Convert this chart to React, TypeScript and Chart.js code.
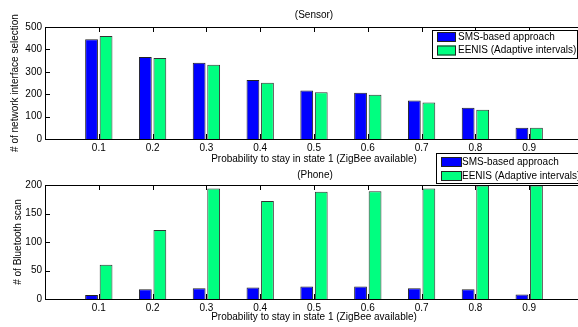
import React, { useEffect, useRef } from 'react';
import { Chart, registerables } from 'chart.js';

Chart.register(...registerables);

const categories = ['0.1', '0.2', '0.3', '0.4', '0.5', '0.6', '0.7', '0.8', '0.9'];
const axisLabels = ['', ...categories, ''];
const seriesNames = ['SMS-based approach', 'EENIS (Adaptive intervals)'];
const seriesColors = ['#0000FF', '#00FF80'];
const sensorSms = [445, 366, 340, 263, 216, 207, 172, 140, 50];
const sensorEenis = [460, 362, 332, 251, 209, 198, 163, 131, 50];
const phoneSms = [7, 17, 19, 20, 22, 22, 19, 17, 8];
const phoneEenis = [60, 121, 194, 172, 188, 189, 194, 199, 199];
const sensorYMax = 500;
const sensorYStep = 100;
const phoneYMax = 200;
const phoneYStep = 50;
const xTitle = 'Probability to stay in state 1 (ZigBee available)';

const FONT = '"Liberation Sans", Arial, Helvetica, sans-serif';
const FONT_SIZE = 10;
const CANVAS_W = 600;
const PLOT_RIGHT = 583;
const TICK_LEN = 5;

type Layout = {
  height: number;
  padTop: number;
  xAxisH: number;
  title: string;
  titleXY: [number, number];
  yTitle: string;
  yTitleXY: [number, number];
  xTitleXY: [number, number];
  legend: { x: number; y: number; w: number; h: number; sw: number; rows: [number, number]; sh: number; tx: number };
};

function pad(arr: number[]) {
  return [null, ...arr, null];
}

function makeConfig(sms: number[], eenis: number[], yMax: number, yStep: number, L: Layout): any {
  const decor = {
    id: 'decor',
    afterDatasetsDraw(chart: any) {
      const ctx = chart.ctx as CanvasRenderingContext2D;
      const a = chart.chartArea;
      const xs = chart.scales.x;
      const ys = chart.scales.y;
      ctx.save();
      ctx.strokeStyle = '#000';
      ctx.lineWidth = 1;
      ctx.beginPath();
      for (let i = 1; i <= categories.length; i++) {
        const px = Math.round(xs.getPixelForValue(i)) + 0.5;
        ctx.moveTo(px, a.top);
        ctx.lineTo(px, a.top + TICK_LEN);
        ctx.moveTo(px, a.bottom);
        ctx.lineTo(px, a.bottom - TICK_LEN);
      }
      for (let v = yStep; v < yMax; v += yStep) {
        const py = Math.round(ys.getPixelForValue(v)) + 0.5;
        ctx.moveTo(a.left, py);
        ctx.lineTo(a.left + TICK_LEN, py);
        ctx.moveTo(a.right, py);
        ctx.lineTo(a.right - TICK_LEN, py);
      }
      ctx.stroke();
      ctx.strokeRect(Math.round(a.left) + 0.5, Math.round(a.top) + 0.5, Math.round(a.right - a.left), Math.round(a.bottom - a.top));
      ctx.restore();
    },
    afterDraw(chart: any) {
      const ctx = chart.ctx as CanvasRenderingContext2D;
      ctx.save();
      ctx.fillStyle = '#000';
      ctx.font = `${FONT_SIZE}px ${FONT}`;
      ctx.textBaseline = 'middle';
      ctx.textAlign = 'center';
      ctx.fillText(L.title, L.titleXY[0], L.titleXY[1]);
      ctx.fillText(xTitle, L.xTitleXY[0], L.xTitleXY[1]);
      ctx.save();
      ctx.translate(L.yTitleXY[0], L.yTitleXY[1]);
      ctx.rotate(-Math.PI / 2);
      ctx.fillText(L.yTitle, 0, 0);
      ctx.restore();
      const lg = L.legend;
      ctx.fillStyle = '#fff';
      ctx.fillRect(lg.x, lg.y, lg.w, lg.h);
      ctx.strokeStyle = '#000';
      ctx.lineWidth = 1;
      ctx.strokeRect(lg.x + 0.5, lg.y + 0.5, lg.w, lg.h);
      ctx.textAlign = 'left';
      for (let i = 0; i < seriesNames.length; i++) {
        const ry = lg.rows[i];
        ctx.fillStyle = seriesColors[i];
        ctx.fillRect(lg.x + 5, ry - lg.sh / 2, lg.sw, lg.sh);
        ctx.strokeStyle = '#222';
        ctx.strokeRect(lg.x + 5.5, ry - lg.sh / 2 + 0.5, lg.sw - 1, lg.sh - 1);
        ctx.fillStyle = '#000';
        ctx.fillText(seriesNames[i], lg.tx, ry);
      }
      ctx.restore();
    },
  };

  return {
    type: 'bar',
    data: {
      labels: axisLabels,
      datasets: [
        { label: seriesNames[0], data: pad(sms), backgroundColor: seriesColors[0], borderColor: '#222', borderWidth: 1, categoryPercentage: 0.54, barPercentage: 0.88 },
        { label: seriesNames[1], data: pad(eenis), backgroundColor: seriesColors[1], borderColor: '#333', borderWidth: 1, categoryPercentage: 0.54, barPercentage: 0.88 },
      ],
    },
    options: {
      responsive: false,
      animation: false,
      devicePixelRatio: 1,
      layout: { padding: { top: L.padTop, right: CANVAS_W - PLOT_RIGHT, left: 0, bottom: 0 } },
      plugins: { legend: { display: false }, tooltip: { enabled: false }, title: { display: false } },
      scales: {
        x: {
          type: 'category',
          offset: false,
          grid: { display: false, drawTicks: false },
          border: { display: false },
          ticks: { color: '#000', font: { family: FONT, size: FONT_SIZE }, padding: 3, maxRotation: 0, autoSkip: false },
          afterFit: (s: any) => { s.height = L.xAxisH; },
        },
        y: {
          min: 0,
          max: yMax,
          grid: { display: false, drawTicks: false },
          border: { display: false },
          ticks: { stepSize: yStep, color: '#000', font: { family: FONT, size: FONT_SIZE }, padding: 3 },
          afterFit: (s: any) => { s.width = 45; },
        },
      },
    },
    plugins: [decor],
  };
}

function BarPanel(props: { top: number; sms: number[]; eenis: number[]; yMax: number; yStep: number; L: Layout }) {
  const ref = useRef<HTMLCanvasElement | null>(null);
  useEffect(() => {
    if (!ref.current) return;
    const chart = new Chart(ref.current, makeConfig(props.sms, props.eenis, props.yMax, props.yStep, props.L));
    return () => chart.destroy();
  }, []);
  return (
    <canvas
      ref={ref}
      width={CANVAS_W}
      height={props.L.height}
      style={{ position: 'absolute', left: 0, top: props.top, width: CANVAS_W, height: props.L.height, display: 'block' }}
    />
  );
}

const sensorLayout: Layout = {
  height: 170,
  padTop: 27,
  xAxisH: 31,
  title: '(Sensor)',
  titleXY: [314, 15],
  yTitle: '# of network interface selection',
  yTitleXY: [15, 83],
  xTitleXY: [314, 159],
  legend: { x: 432, y: 30, w: 145, h: 28, sw: 19, sh: 10, rows: [37, 50.5], tx: 458 },
};

const phoneLayout: Layout = {
  height: 182,
  padTop: 40,
  xAxisH: 28,
  title: '(Phone)',
  titleXY: [315, 30],
  yTitle: '# of Bluetooth scan',
  yTitleXY: [18, 97],
  xTitleXY: [314, 172],
  legend: { x: 436, y: 8, w: 146, h: 30, sw: 21, sh: 10, rows: [17, 31], tx: 462 },
};

export default function App() {
  return (
    <div style={{ position: 'fixed', left: 0, top: 0, width: 578, height: 327, overflow: 'hidden', background: '#fff' }}>
      <BarPanel top={0} sms={sensorSms} eenis={sensorEenis} yMax={sensorYMax} yStep={sensorYStep} L={sensorLayout} />
      <BarPanel top={145} sms={phoneSms} eenis={phoneEenis} yMax={phoneYMax} yStep={phoneYStep} L={phoneLayout} />
    </div>
  );
}
